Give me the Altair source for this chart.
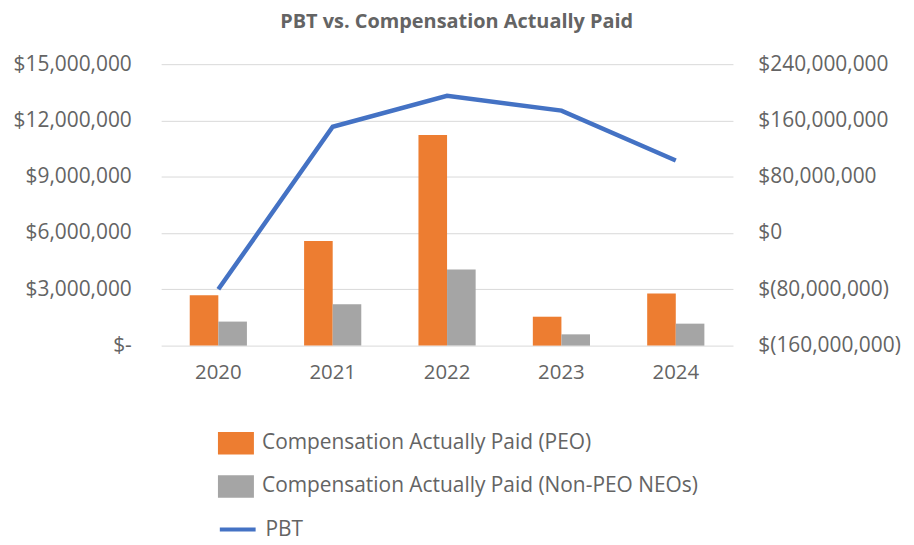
import altair as alt
import pandas as pd

years = ["2020", "2021", "2022", "2023", "2024"]
cap_peo = [2.69e6, 5.58e6, 11.23e6, 1.54e6, 2.78e6]
cap_neo = [1.28e6, 2.21e6, 4.06e6, 0.60e6, 1.17e6]
pbt = [-80e6, 151e6, 195e6, 174e6, 103e6]

s_peo = "Compensation Actually Paid (PEO)"
s_neo = "Compensation Actually Paid (Non-PEO NEOs)"
s_pbt = "PBT"

left_ticks = [0, 3e6, 6e6, 9e6, 12e6, 15e6]
right_ticks = [-160e6, -80e6, 0, 80e6, 160e6, 240e6]

bars_df = pd.DataFrame(
    {"year": years * 2,
     "series": [s_peo] * len(years) + [s_neo] * len(years),
     "value": cap_peo + cap_neo}
)
line_df = pd.DataFrame({"year": years, "series": [s_pbt] * len(years), "value": pbt})

FONT = "Open Sans"
TXT = "#646464"
FS = 21

xscale = alt.Scale(paddingInner=0.5, paddingOuter=0.25)
xaxis = alt.Axis(title=None, domain=False, ticks=False, labelAngle=0, labelPadding=17,
                 labelFont=FONT, labelFontSize=20.5, labelColor=TXT)

bars = alt.Chart(bars_df).mark_bar().encode(
    x=alt.X("year:N", scale=xscale, axis=xaxis, sort=years),
    xOffset=alt.XOffset("series:N", sort=[s_peo, s_neo]),
    y=alt.Y("value:Q",
            scale=alt.Scale(domain=[0, 15e6], nice=False, zero=True),
            axis=alt.Axis(title=None, values=left_ticks, domain=False, ticks=False,
                          grid=True, gridColor="#D9D9D9", gridWidth=1,
                          labelExpr="datum.value == 0 ? '$-' : '$' + format(datum.value, ',')",
                          labelPadding=30, labelFont=FONT, labelFontSize=FS, labelColor=TXT)),
    color=alt.Color("series:N",
                    scale=alt.Scale(domain=[s_peo, s_neo], range=["#ED7D31", "#A5A5A5"]),
                    legend=alt.Legend(title=None, orient="none", legendX=63.7, legendY=369.7,
                                      direction="vertical",
                                      symbolType="M-1.6,-1L1.6,-1L1.6,1L-1.6,1Z",
                                      symbolSize=511, symbolStrokeWidth=0, symbolOpacity=1,
                                      rowPadding=20.4, labelOffset=14.7,
                                      labelFont=FONT, labelFontSize=FS, labelColor=TXT,
                                      labelLimit=600)),
)

line = alt.Chart(line_df).mark_line(strokeWidth=4.5).encode(
    x=alt.X("year:N", scale=xscale, axis=xaxis, sort=years),
    y=alt.Y("value:Q",
            scale=alt.Scale(domain=[-160e6, 240e6], nice=False, zero=False),
            axis=alt.Axis(title=None, orient="right", values=right_ticks, domain=False,
                          ticks=False, grid=False,
                          labelExpr="datum.value < 0 ? '$(' + format(-datum.value, ',') + ')' : '$' + format(datum.value, ',')",
                          labelPadding=25, labelFont=FONT, labelFontSize=FS, labelColor=TXT)),
    stroke=alt.Stroke("series:N",
                      scale=alt.Scale(domain=[s_pbt], range=["#4472C4"]),
                      legend=alt.Legend(title=None, orient="none", legendX=65, legendY=456,
                                        symbolType="M-1.8,0L1.8,0", symbolSize=400,
                                        symbolStrokeWidth=4, labelOffset=16,
                                        labelFont=FONT, labelFontSize=FS, labelColor=TXT)),
)

chart = alt.layer(bars, line).resolve_scale(
    y="independent", color="independent", stroke="independent"
).properties(
    width=575, height=283,
    padding={"left": 5, "top": 2, "right": 5, "bottom": 0},
    title=alt.TitleParams("PBT vs. Compensation Actually Paid", font=FONT, fontSize=20,
                          fontWeight="bold", color=TXT, anchor="middle", frame="bounds",
                          offset=21.5),
).configure_view(stroke=None)

chart.save("out.html", embed_options={"renderer": "svg", "actions": False})
